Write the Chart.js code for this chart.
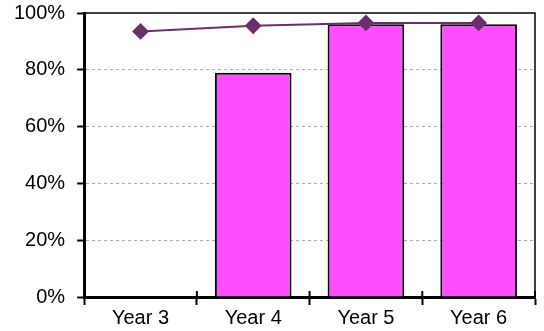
<!DOCTYPE html>
<html>
<head>
<meta charset="utf-8">
<script src="https://cdn.jsdelivr.net/npm/chart.js@4"></script>
<style>
  html, body { margin: 0; padding: 0; background: #fff; }
  #wrap { width: 544px; height: 331px; }
</style>
</head>
<body>
<div id="wrap"><canvas id="chart"></canvas></div>
<script>
const categories = ["Year 3", "Year 4", "Year 5", "Year 6"];
const barValues = [null, 79, 96, 96];
const lineValues = [93.5, 95.5, 96.5, 96.5];
const yTicks = [0, 20, 40, 60, 80, 100];

// top/right frame + tick marks crossing the x axis
const framePlugin = {
  id: "frame",
  afterDraw(chart) {
    const { ctx, chartArea: a, scales } = chart;
    ctx.save();
    ctx.strokeStyle = "#000";
    ctx.lineWidth = 1.5;
    ctx.beginPath();
    ctx.moveTo(a.left, a.top);
    ctx.lineTo(a.right, a.top);
    ctx.lineTo(a.right, a.bottom);
    ctx.stroke();
    ctx.lineWidth = 2;
    const x = scales.x;
    for (let i = 0; i <= categories.length; i++) {
      const px = x.getPixelForValue(i - 0.5);
      ctx.beginPath();
      ctx.moveTo(px, a.bottom - 6);
      ctx.lineTo(px, a.bottom);
      ctx.stroke();
    }
    ctx.restore();
  }
};

new Chart(document.getElementById("chart"), {
  data: {
    labels: categories,
    datasets: [
      {
        type: "line",
        data: lineValues,
        borderColor: "#6b2f6b",
        backgroundColor: "#6b2f6b",
        borderWidth: 2,
        pointStyle: "rectRot",
        pointRadius: 7,
        pointHoverRadius: 7,
        order: 0
      },
      {
        type: "bar",
        data: barValues,
        backgroundColor: "#ff4dff",
        borderColor: "#000",
        borderWidth: 2,
        barPercentage: 0.68,
        categoryPercentage: 1,
        order: 1
      }
    ]
  },
  options: {
    responsive: true,
    maintainAspectRatio: false,
    animation: false,
    layout: { padding: { left: 2, right: 6, top: 13, bottom: 0 } },
    plugins: {
      legend: { display: false },
      tooltip: { enabled: false }
    },
    scales: {
      x: {
        offset: true,
        grid: {
          offset: true,
          drawOnChartArea: false,
          tickLength: 8,
          tickColor: "#000",
          tickWidth: 2
        },
        border: { color: "#000", width: 3 },
        ticks: {
          color: "#000",
          padding: 1,
          font: { family: "Liberation Sans", size: 20 }
        }
      },
      y: {
        min: 0,
        max: 100,
        afterBuildTicks(axis) {
          axis.ticks = yTicks.map(v => ({ value: v }));
        },
        afterFit(axis) {
          axis.paddingTop = 0;
        },
        grid: {
          color: ctx => (ctx.tick && (ctx.tick.value === 0 || ctx.tick.value === 100)) ? "rgba(0,0,0,0)" : "#aaaaaa",
          tickColor: "#000",
          tickWidth: 2,
          tickLength: 7,
          lineWidth: 1
        },
        border: { color: "#000", width: 3, dash: [3, 3] },
        ticks: {
          color: "#000",
          padding: 12,
          font: { family: "Liberation Sans", size: 20 },
          callback: v => v + "%"
        }
      }
    }
  },
  plugins: [framePlugin]
});
</script>
</body>
</html>
